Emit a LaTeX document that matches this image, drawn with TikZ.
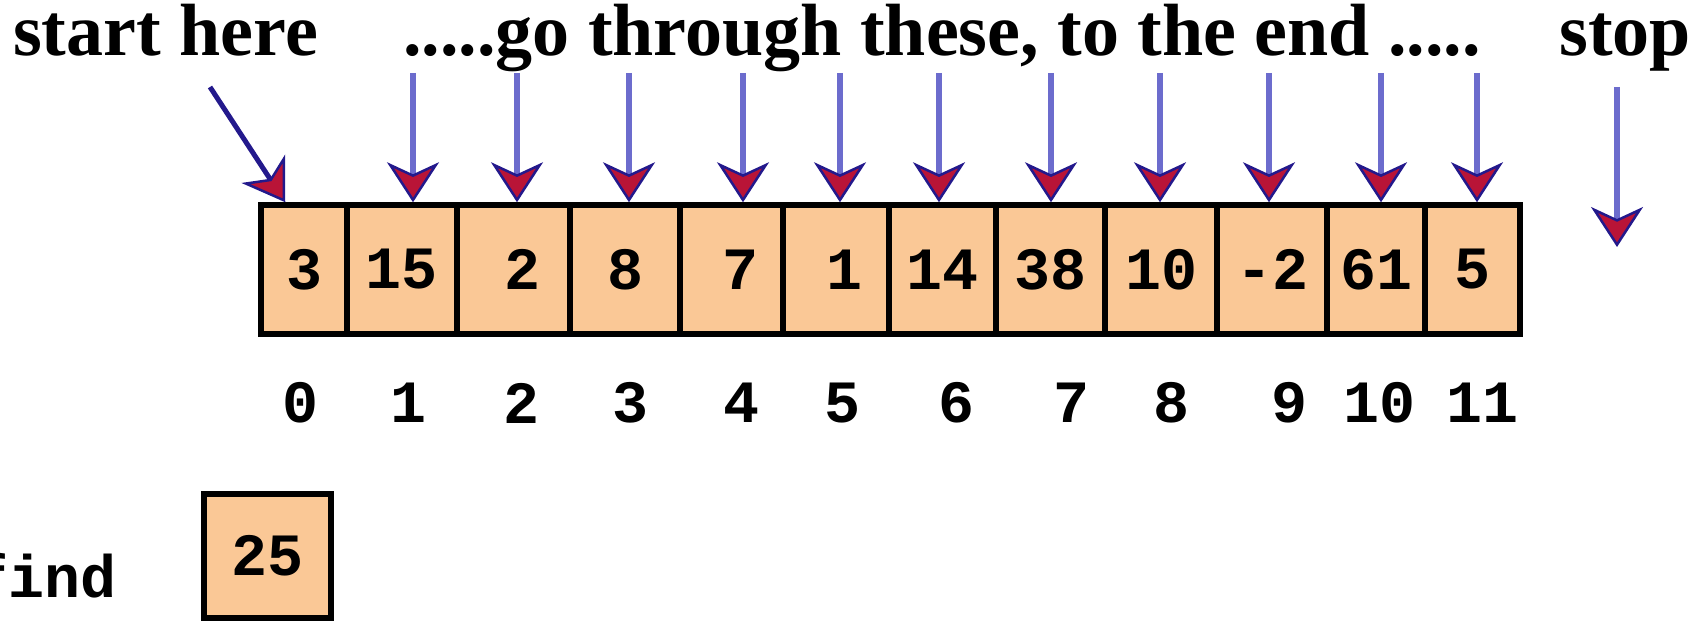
\documentclass[tikz,border=0pt]{standalone}
\usepackage{fontspec}
\setmainfont{Liberation Serif}
\newfontfamily\codefont{Liberation Mono}
\usepackage{tikz}
\usetikzlibrary{arrows.meta,positioning,calc}
\usepackage{xcolor}
\definecolor{peach}{RGB}{250,200,150}
\definecolor{shaftblue}{RGB}{108,108,205}
\definecolor{tipblue}{RGB}{35,25,140}
\definecolor{tipred}{RGB}{185,20,55}

\begin{document}
\begin{tikzpicture}[x=1pt, y=-1pt,
    cell/.style={draw=black, line width=5.5pt, fill=peach, minimum height=129pt, inner sep=0pt,
                 font=\codefont\bfseries\fontsize{60}{60}\selectfont},
    idx/.style={inner sep=0pt, font=\codefont\bfseries\fontsize{60}{60}\selectfont},
    title/.style={anchor=base west, inner sep=0pt, font=\bfseries\fontsize{74}{74}\selectfont},
    walk/.style={draw=shaftblue, line width=6pt,
                 -{Stealth[length=40pt, width=52pt, inset=12pt, line width=2.5pt, color=tipblue, fill=tipred]}}]
    \useasboundingbox (0,0) rectangle (1708,623);

    % titles
    \node[title] (start) at (13,56) {start here};
    \node[title] (go) at (403,56) {.....go through these, to the end .....};
    \node[title] (stop) at (1559,56) {stop};

    % the array
    \node[cell, minimum width=86pt] (c0) at (304,269.5) {3};
    \node[cell, minimum width=110pt] (c1) at (402,269.5) {15};
    \node[cell, minimum width=113pt] (c2) at (513.5,269.5) {\hspace*{18pt}2};
    \node[cell, minimum width=110pt] (c3) at (625,269.5) {8};
    \node[cell, minimum width=103pt] (c4) at (731.5,269.5) {\hspace*{18pt}7};
    \node[cell, minimum width=106pt] (c5) at (836,269.5) {\hspace*{16pt}1};
    \node[cell, minimum width=107pt] (c6) at (942.5,269.5) {14};
    \node[cell, minimum width=109pt] (c7) at (1050.5,269.5) {38};
    \node[cell, minimum width=112pt] (c8) at (1161,269.5) {10};
    \node[cell, minimum width=110pt] (c9) at (1272,269.5) {-2};
    \node[cell, minimum width=98pt] (c10) at (1376,269.5) {61};
    \node[cell, minimum width=95pt] (c11) at (1472.5,269.5) {5};

    % indices
    \node[idx] (i0) at (300,403) {0}; \node[idx] (i1) at (408,403) {1}; \node[idx] (i2) at (521,403) {2};
    \node[idx] (i3) at (630,403) {3}; \node[idx] (i4) at (741,403) {4}; \node[idx] (i5) at (842,403) {5};
    \node[idx] (i6) at (956,403) {6}; \node[idx] (i7) at (1071,403) {7}; \node[idx] (i8) at (1171,403) {8};
    \node[idx] (i9) at (1289,403) {9}; \node[idx] (i10) at (1379,403) {10}; \node[idx] (i11) at (1482,403) {11};

    % arrows
    \coordinate (s0) at (210,87);
    \draw[walk, draw=tipblue, line width=5pt] (s0) -- ($(c0.north west)+(27,0)$);
    \coordinate (t1) at (413,73); \coordinate (t2) at (517,73); \coordinate (t3) at (629,73);
    \coordinate (t4) at (743,73); \coordinate (t5) at (840,73); \coordinate (t6) at (939,73);
    \coordinate (t7) at (1051,73); \coordinate (t8) at (1160,73); \coordinate (t9) at (1269,73);
    \coordinate (t10) at (1381,73); \coordinate (t11) at (1477,73);
    \draw[walk] (t1) -- (t1 |- c1.north); \draw[walk] (t2) -- (t2 |- c2.north);
    \draw[walk] (t3) -- (t3 |- c3.north); \draw[walk] (t4) -- (t4 |- c4.north);
    \draw[walk] (t5) -- (t5 |- c5.north); \draw[walk] (t6) -- (t6 |- c6.north);
    \draw[walk] (t7) -- (t7 |- c7.north); \draw[walk] (t8) -- (t8 |- c8.north);
    \draw[walk] (t9) -- (t9 |- c9.north); \draw[walk] (t10) -- (t10 |- c10.north);
    \draw[walk] (t11) -- (t11 |- c11.north);
    \coordinate (e0) at (1617,87); \coordinate (e1) at (1617,247);
    \draw[walk] (e0) -- (e1);

    % value to find
    \node[cell, minimum width=127pt, minimum height=124pt] (key) at (267.5,556) {25};
    \node[idx, anchor=base east] (find) at (117,597) {find};
\end{tikzpicture}
\end{document}
